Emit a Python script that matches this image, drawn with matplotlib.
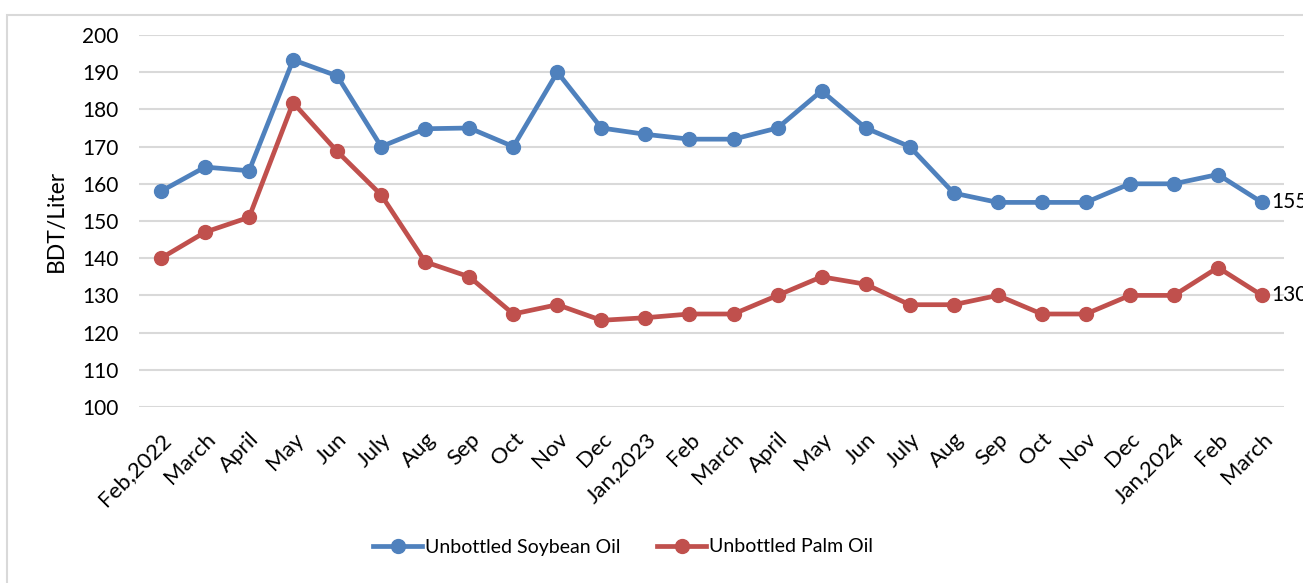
import matplotlib
matplotlib.use('Agg')
import matplotlib.pyplot as plt
from matplotlib.patches import Rectangle
from matplotlib.lines import Line2D

# monthly retail prices, BDT per liter
months = ['Feb,2022', 'March', 'April', 'May', 'Jun', 'July', 'Aug', 'Sep', 'Oct',
          'Nov', 'Dec', 'Jan,2023', 'Feb', 'March', 'April', 'May', 'Jun', 'July',
          'Aug', 'Sep', 'Oct', 'Nov', 'Dec', 'Jan,2024', 'Feb', 'March']
soybean = [158, 164.5, 163.5, 193.3, 189, 170, 174.8, 175, 170, 190, 175, 173.3, 172,
           172, 175, 185, 175, 170, 157.5, 155, 155, 155, 160, 160, 162.5, 155]
palm = [140, 147, 151, 181.8, 168.7, 157, 139, 135, 125, 127.5, 123.3, 124, 125,
        125, 130, 135, 133, 127.5, 127.5, 130, 125, 125, 130, 130, 137.5, 130]
yticks = [100, 110, 120, 130, 140, 150, 160, 170, 180, 190, 200]

plt.rcParams['font.family'] = ['Lato', 'DejaVu Sans']
FS = 15

fig = plt.figure(figsize=(13.03, 5.83), dpi=100)
ax = fig.add_axes([139/1303, 1-407/583, (1284-139)/1303, (407-35)/583])

# chart frame
fig.patches.append(Rectangle((7/1303, -0.05), 1.2, 1-15/583+0.05, transform=fig.transFigure,
                             fill=False, edgecolor='#D9D9D9', lw=1.5))

x = list(range(len(months)))
ax.plot(x, soybean, color='#4F81BD', lw=3.4, marker='o', ms=10, label='Unbottled Soybean Oil',
        solid_capstyle='round', zorder=3)
ax.plot(x, palm, color='#C0504D', lw=3.4, marker='o', ms=10, label='Unbottled Palm Oil',
        solid_capstyle='round', zorder=3)

ax.text(x[-1]+0.2, soybean[-1], f'{soybean[-1]:g}', fontsize=FS, va='center', ha='left')
ax.text(x[-1]+0.2, palm[-1], f'{palm[-1]:g}', fontsize=FS, va='center', ha='left')

ax.set_xlim(-0.5, len(months)-0.5)
ax.set_ylim(100, 200)
ax.set_yticks(yticks)
ax.tick_params(axis='y', labelsize=FS, length=0, pad=15)
ax.set_xticks(x)
ax.set_xticklabels(months, rotation=45, ha='right', rotation_mode='anchor', fontsize=16)
ax.tick_params(axis='x', length=0, pad=16)
ax.grid(axis='y', color='#D9D9D9', lw=1.5)
ax.set_axisbelow(True)
for s in ax.spines.values():
    s.set_visible(False)
ax.set_ylabel('BDT/Liter', fontsize=16.5, labelpad=11)

handles = [Line2D([0], [0], color='#4F81BD', lw=3.4, marker='o', ms=10),
           Line2D([0], [0], color='#C0504D', lw=3.4, marker='o', ms=10)]
fig.legend(handles, ['Unbottled Soybean Oil', 'Unbottled Palm Oil'], loc='center',
           bbox_to_anchor=(623/1303, 1-547/583), ncol=2, frameon=False, fontsize=14,
           handlelength=2.5, handletextpad=0.15, columnspacing=1.9)

fig.savefig('out.png', dpi=100)
